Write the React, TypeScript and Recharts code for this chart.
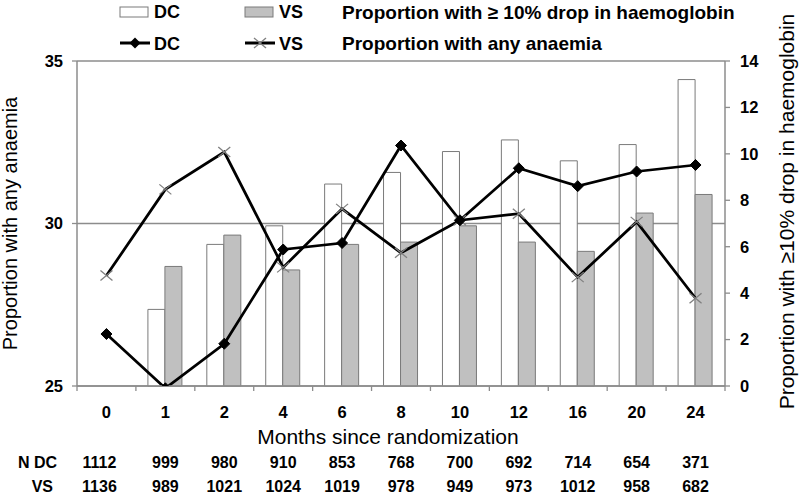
import React from 'react';
import { ComposedChart, Bar, Line, XAxis, YAxis, CartesianGrid, Legend } from 'recharts';

const months = ['0', '1', '2', '4', '6', '8', '10', '12', '16', '20', '24'];
const dcDrop = [null, 3.3, 6.1, 6.9, 8.7, 9.2, 10.1, 10.6, 9.7, 10.4, 13.2];
const vsDrop = [null, 5.15, 6.5, 5.0, 6.1, 6.2, 6.9, 6.2, 5.8, 7.45, 8.25];
const dcAnaemia = [26.6, 24.93, 26.3, 29.2, 29.4, 32.4, 30.1, 31.7, 31.15, 31.6, 31.8];
const vsAnaemia = [28.4, 31.05, 32.2, 28.65, 30.45, 29.1, 30.1, 30.3, 28.35, 30.05, 27.7];
const nDC = [1112, 999, 980, 910, 853, 768, 700, 692, 714, 654, 371];
const nVS = [1136, 989, 1021, 1024, 1019, 978, 949, 973, 1012, 958, 682];
const leftTicks = [25, 30, 35];
const rightTicks = [0, 2, 4, 6, 8, 10, 12, 14];

const data = months.map((m, i) => ({
  month: m,
  dcDrop: dcDrop[i],
  vsDrop: vsDrop[i],
  dcAnaemia: dcAnaemia[i],
  vsAnaemia: vsAnaemia[i],
}));

const AXIS = '#8c8c8c';
const FONT = '"Liberation Sans", Arial, sans-serif';
const GREY_FILL = '#c0c0c0';
const BAR_STROKE = '#7a7a7a';
const X_MARK = '#7f7f7f';

const diamond = (cx: number, cy: number, r = 5.5) =>
  `M${cx},${cy - r} L${cx + r},${cy} L${cx},${cy + r} L${cx - r},${cy} Z`;

const DiamondDot = (props: any) => {
  const { cx, cy, index } = props;
  if (cx == null || cy == null) return <g key={`d-${index}`} />;
  return <path key={`d-${index}`} d={diamond(cx, cy)} fill="#000" stroke="#000" strokeWidth={1} />;
};

const CrossDot = (props: any) => {
  const { cx, cy, index } = props;
  if (cx == null || cy == null) return <g key={`x-${index}`} />;
  return (
    <g key={`x-${index}`}>
      <line x1={cx - 6} y1={cy - 5} x2={cx + 6} y2={cy + 5} stroke={X_MARK} strokeWidth={1.3} />
      <line x1={cx - 6} y1={cy + 5} x2={cx + 6} y2={cy - 5} stroke={X_MARK} strokeWidth={1.3} />
    </g>
  );
};

const MainTick = (props: any) => {
  const { x, y, payload, index, width, visibleTicksCount } = props;
  const count = visibleTicksCount || months.length;
  const band = (width || 648) / count;
  return (
    <g>
      <line x1={x - band / 2} x2={x - band / 2} y1={y} y2={y + 5} stroke={AXIS} strokeWidth={1.3} />
      {index === count - 1 && (
        <line x1={x + band / 2} x2={x + band / 2} y1={y} y2={y + 5} stroke={AXIS} strokeWidth={1.3} />
      )}
      <text x={x} y={y + 32} textAnchor="middle" fontSize={16.5} fontWeight="bold" fill="#000" fontFamily={FONT}>
        {payload.value}
      </text>
    </g>
  );
};

const makeTableTick = (vals: number[]) => (props: any) => {
  const { x, y, index } = props;
  return (
    <text x={x} y={y + 15.5} dx={index === 0 ? -7 : 0} textAnchor="middle" fontSize={16} fontWeight="bold" fill="#000" fontFamily={FONT}>
      {vals[index]}
    </text>
  );
};

const RowLabel = (text: string, right: number) => (props: any) => {
  const vb = props.viewBox || {};
  return (
    <text x={right} y={vb.y + 15.5} textAnchor="end" fontSize={16} fontWeight="bold" fill="#000" fontFamily={FONT}>
      {text}
    </text>
  );
};

const XTitle = (props: any) => {
  const vb = props.viewBox || {};
  return (
    <text x={vb.x + vb.width / 2 - 13} y={vb.y + 58} textAnchor="middle" fontSize={21} fill="#000" fontFamily={FONT}>
      Months since randomization
    </text>
  );
};

const LeftTitle = (props: any) => {
  const vb = props.viewBox || {};
  const cx = 17;
  const cy = vb.y + vb.height / 2;
  return (
    <text x={cx} y={cy} transform={`rotate(-90, ${cx}, ${cy})`} textAnchor="middle" fontSize={20} fill="#000" fontFamily={FONT}>
      Proportion with any anaemia
    </text>
  );
};

const RightTitle = (props: any) => {
  const vb = props.viewBox || {};
  const cx = 794;
  const cy = vb.y + vb.height / 2 - 12;
  return (
    <text x={cx} y={cy} transform={`rotate(-90, ${cx}, ${cy})`} textAnchor="middle" fontSize={21} fill="#000" fontFamily={FONT}>
      Proportion with ≥10% drop in haemoglobin
    </text>
  );
};

const LegendBox = () => (
  <svg width={800} height={58} style={{ display: 'block' }}>
    <g fontFamily={FONT} fontWeight="bold" fill="#000">
      <rect x={120} y={7} width={28} height={10} fill="#fff" stroke={BAR_STROKE} strokeWidth={1} />
      <text x={154} y={18} fontSize={18}>DC</text>
      <rect x={245} y={7} width={28} height={10} fill={GREY_FILL} stroke={BAR_STROKE} strokeWidth={1} />
      <text x={279} y={18} fontSize={18}>VS</text>
      <text x={342} y={19} fontSize={19}>Proportion with ≥ 10% drop in haemoglobin</text>

      <line x1={120} x2={150} y1={43} y2={43} stroke="#000" strokeWidth={3} />
      <path d={diamond(135, 43)} fill="#000" />
      <text x={154} y={50} fontSize={18}>DC</text>
      <line x1={245} x2={275} y1={43} y2={43} stroke="#000" strokeWidth={3} />
      <line x1={254} y1={38} x2={266} y2={48} stroke={X_MARK} strokeWidth={1.3} />
      <line x1={254} y1={48} x2={266} y2={38} stroke={X_MARK} strokeWidth={1.3} />
      <text x={279} y={50} fontSize={18}>VS</text>
      <text x={342} y={50} fontSize={19}>Proportion with any anaemia</text>
    </g>
  </svg>
);

export default function App() {
  return (
    <div style={{ position: 'absolute', left: 0, top: 0, width: 800, height: 496, background: '#fff', fontFamily: FONT }}>
      <ComposedChart
        width={800}
        height={496}
        data={data}
        margin={{ top: 61, right: 0, bottom: 0, left: 0 }}
        barGap={0}
      >
        <CartesianGrid yAxisId="left" xAxisId="main" vertical={false} stroke={AXIS} strokeWidth={1.5} />
        <XAxis
          xAxisId="main"
          dataKey="month"
          height={66}
          interval={0}
          tickSize={0}
          tickMargin={0}
          tick={MainTick}
          tickLine={false}
          axisLine={{ stroke: AXIS, strokeWidth: 1.5 }}
          label={{ content: XTitle }}
        />
        <XAxis
          xAxisId="ndc"
          dataKey="month"
          height={24}
          interval={0}
          tickSize={0}
          tickMargin={0}
          axisLine={false}
          tickLine={false}
          tick={makeTableTick(nDC)}
          label={{ content: RowLabel('N DC', 57) }}
        />
        <XAxis
          xAxisId="nvs"
          dataKey="month"
          height={20}
          interval={0}
          tickSize={0}
          tickMargin={0}
          axisLine={false}
          tickLine={false}
          tick={makeTableTick(nVS)}
          label={{ content: RowLabel('VS', 53) }}
        />
        <YAxis
          yAxisId="left"
          width={77}
          domain={[25, 35]}
          ticks={leftTicks}
          allowDataOverflow
          tickSize={5}
          tickMargin={9}
          tick={{ fontSize: 16.5, fontWeight: 'bold', fill: '#000', fontFamily: FONT }}
          axisLine={{ stroke: AXIS, strokeWidth: 1.5 }}
          tickLine={{ stroke: AXIS, strokeWidth: 1.3 }}
          label={{ content: LeftTitle }}
        />
        <YAxis
          yAxisId="right"
          orientation="right"
          width={75}
          domain={[0, 14]}
          ticks={rightTicks}
          tickSize={5}
          tickMargin={10}
          tick={{ fontSize: 16.5, fontWeight: 'bold', fill: '#000', fontFamily: FONT }}
          axisLine={{ stroke: AXIS, strokeWidth: 1.5 }}
          tickLine={{ stroke: AXIS, strokeWidth: 1.3 }}
          label={{ content: RightTitle }}
        />
        <Legend
          layout="vertical"
          verticalAlign="middle"
          align="center"
          wrapperStyle={{ top: 0, left: 0, width: 800, height: 58 }}
          content={() => <LegendBox />}
        />
        <Bar xAxisId="main" yAxisId="right" dataKey="dcDrop" name="DC" barSize={17} fill="#fff" stroke={BAR_STROKE} strokeWidth={1} isAnimationActive={false} />
        <Bar xAxisId="main" yAxisId="right" dataKey="vsDrop" name="VS" barSize={17} fill={GREY_FILL} stroke={BAR_STROKE} strokeWidth={1} isAnimationActive={false} />
        <Line xAxisId="main" yAxisId="left" dataKey="vsAnaemia" name="VS" stroke="#000" strokeWidth={2.75} dot={CrossDot} activeDot={false} isAnimationActive={false} />
        <Line xAxisId="main" yAxisId="left" dataKey="dcAnaemia" name="DC" stroke="#000" strokeWidth={2.75} dot={DiamondDot} activeDot={false} isAnimationActive={false} />
      </ComposedChart>
    </div>
  );
}
